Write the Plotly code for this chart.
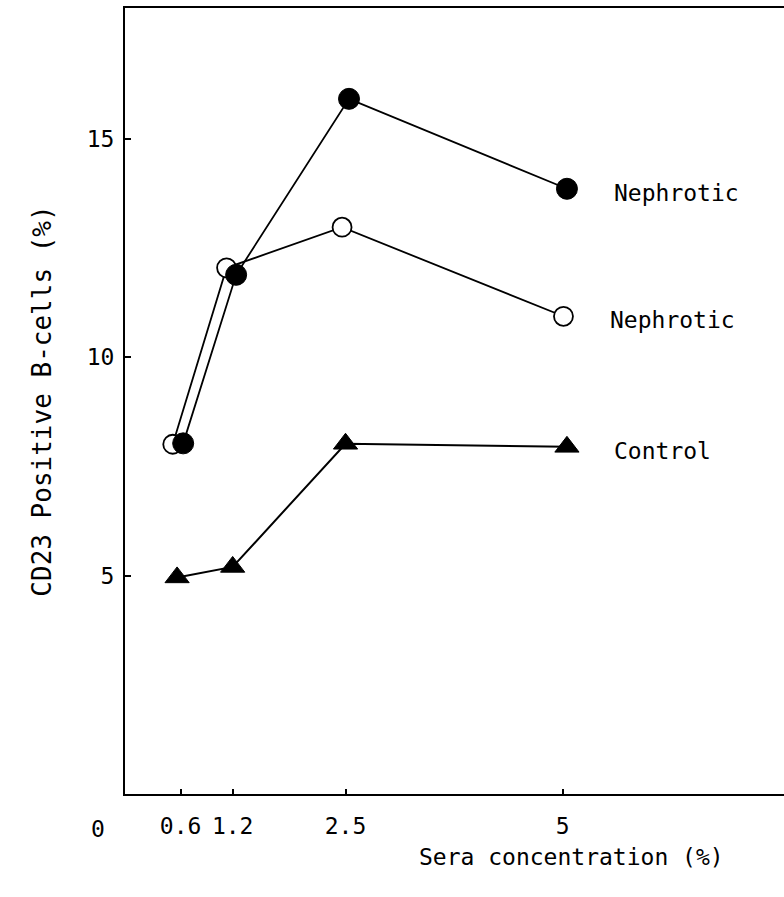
import plotly.graph_objects as go

# Sera concentration (%) at which each group was measured
conc_ticks = [0.6, 1.2, 2.5, 5]
conc_tick_labels = ["0.6", "1.2", "2.5", "5"]

# Plotted x positions (the two nephrotic series are nudged apart slightly)
x_nephrotic_filled = [0.63, 1.24, 2.54, 5.05]
x_nephrotic_open = [0.51, 1.13, 2.46, 5.01]
x_control = [0.56, 1.20, 2.50, 5.05]

# CD23 positive B-cells (%)
y_nephrotic_filled = [8.03, 11.89, 15.92, 13.86]
y_nephrotic_open = [8.01, 12.05, 12.98, 10.94]
y_control = [4.96, 5.20, 8.02, 7.95]

series_names = ["Nephrotic", "Nephrotic", "Control"]

FONT = "DejaVu Sans Mono, Liberation Mono, monospace"
FS = 23

fig = go.Figure()

fig.add_trace(go.Scatter(
    x=x_control, y=y_control, mode="lines+markers", name=series_names[2],
    line=dict(color="black", width=2),
    marker=dict(symbol="triangle-up", size=21, color="black",
                line=dict(color="black", width=1)),
))
fig.add_trace(go.Scatter(
    x=x_nephrotic_open, y=y_nephrotic_open, mode="lines+markers", name=series_names[1],
    line=dict(color="black", width=1.8),
    marker=dict(symbol="circle", size=19, color="white",
                line=dict(color="black", width=1.8)),
))
fig.add_trace(go.Scatter(
    x=x_nephrotic_filled, y=y_nephrotic_filled, mode="lines+markers", name=series_names[0],
    line=dict(color="black", width=1.8),
    marker=dict(symbol="circle", size=21, color="black",
                line=dict(color="black", width=1)),
))

# Series labels to the right of the last point of each line
label_points = [
    (x_nephrotic_filled[-1], y_nephrotic_filled[-1], series_names[0]),
    (x_nephrotic_open[-1], y_nephrotic_open[-1], series_names[1]),
    (x_control[-1], y_control[-1], series_names[2]),
]
annotations = []
for lx, ly, txt in label_points:
    annotations.append(dict(
        x=lx, y=ly, text=txt, showarrow=False, xanchor="left", yanchor="middle",
        xshift=45, yshift=-4, font=dict(family=FONT, size=FS, color="black"),
    ))

# Origin label in the lower-left corner
annotations.append(dict(
    x=0, y=0, text="0", showarrow=False, xanchor="center", yanchor="middle",
    xshift=-30, yshift=-35, font=dict(family=FONT, size=FS, color="black"),
))

# X-axis title, set off to the right under the "5" tick
annotations.append(dict(
    x=0.678, y=0, xref="paper", yref="paper", text="Sera concentration (%)",
    showarrow=False, xanchor="center", yanchor="middle", yshift=-63,
    font=dict(family=FONT, size=FS, color="black"),
))

fig.update_layout(
    width=784, height=897,
    margin=dict(l=125, r=0, t=8, b=103),
    paper_bgcolor="white", plot_bgcolor="white",
    showlegend=False,
    annotations=annotations,
    font=dict(family=FONT, color="black"),
    xaxis=dict(
        range=[-0.04, 7.55],
        tickvals=conc_ticks, ticktext=conc_tick_labels,
        ticks="inside", ticklen=5, tickwidth=1.5, tickcolor="black",
        tickfont=dict(family=FONT, size=FS, color="black"),
        ticklabelstandoff=10,
        showline=True, linecolor="black", linewidth=2, mirror=True,
        showgrid=False, zeroline=False,
        automargin=False,
    ),
    yaxis=dict(
        range=[0, 18],
        tickvals=[5, 10, 15],
        ticks="inside", ticklen=6, tickwidth=1.5, tickcolor="black",
        tickfont=dict(family=FONT, size=FS, color="black"),
        ticklabelstandoff=4,
        showline=True, linecolor="black", linewidth=2,
        showgrid=False, zeroline=False,
        title=dict(text="CD23 Positive B-cells (%)",
                   font=dict(family=FONT, size=26, color="black"), standoff=28),
        automargin=False,
    ),
)

fig.write_html("out.html")
